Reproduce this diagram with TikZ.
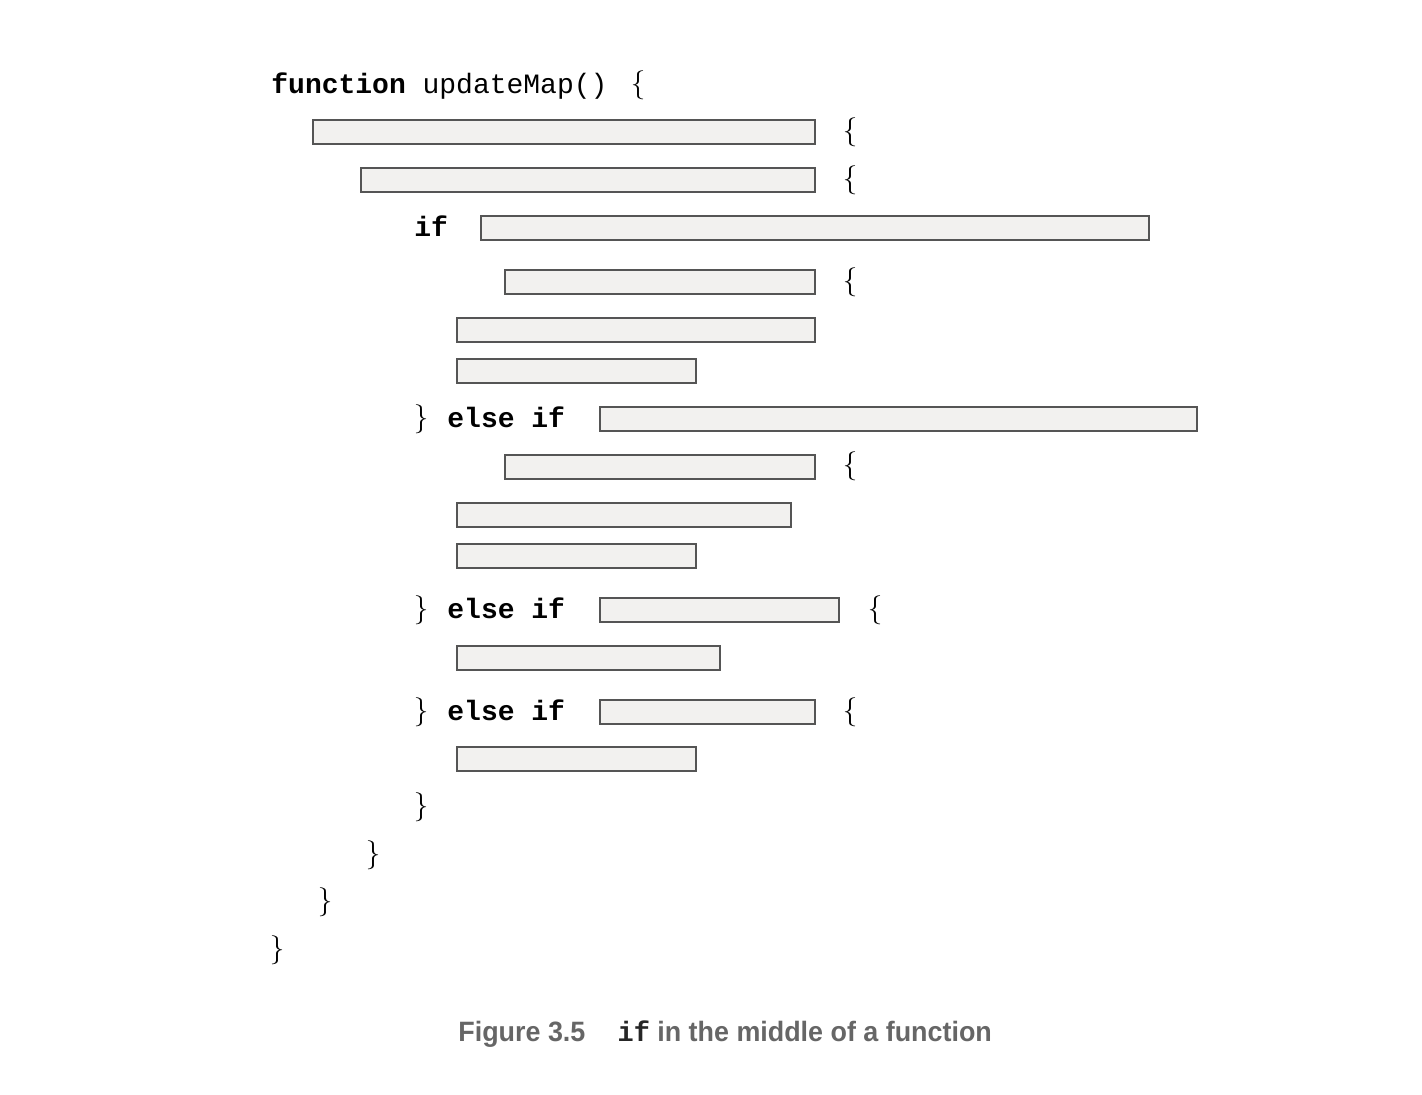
\documentclass[tikz,border=0pt]{standalone}
\usepackage{fontspec}
\usepackage{graphicx}
\usepackage{tikz}
\newfontfamily\codefont{Liberation Mono}
\newfontfamily\capfont{Liberation Sans}

\definecolor{boxfill}{HTML}{F2F1EF}
\definecolor{boxline}{HTML}{555555}
\definecolor{capgray}{HTML}{666666}

\tikzset{
    code/.style={anchor=base west, inner sep=0pt, font=\codefont\fontsize{14}{14}\selectfont},
    brace/.style={inner sep=0pt, font=\fontsize{14.5}{14.5}\selectfont},
    blank/.style={draw=boxline, fill=boxfill, line width=1pt},
}

\begin{document}
\begin{tikzpicture}[x=0.5pt, y=-0.5pt]
            \useasboundingbox (0,0) rectangle (1422,1094);
            % code lines
            \node[code] (fn) at (271,93) {\textbf{function} updateMap()};
            \node[brace] (o0) at (638,85) {\{};
            \node[code] (if1) at (414,236) {\textbf{if}};
            \node[brace] (c1) at (421,419) {\}};
            \node[code] (ei1) at (447,427) {\textbf{else if}};
            \node[brace] (c2) at (421,610) {\}};
            \node[code] (ei2) at (447,618) {\textbf{else if}};
            \node[brace] (c3) at (421,712) {\}};
            \node[code] (ei3) at (447,720) {\textbf{else if}};
            % opening braces
            \node[brace] (o1) at (850,132) {\{};
            \node[brace] (o2) at (850,180) {\{};
            \node[brace] (o3) at (850,282) {\{};
            \node[brace] (o4) at (850,466) {\{};
            \node[brace] (o5) at (875,610) {\{};
            \node[brace] (o6) at (850,712) {\{};
            % closing braces
            \node[brace] (e1) at (421,807) {\}};
            \node[brace] (e2) at (373,855) {\}};
            \node[brace] (e3) at (325,902) {\}};
            \node[brace] (e4) at (277,950) {\}};
            % blanked-out code
            \draw[blank] (313,120) rectangle (815,144);
            \draw[blank] (361,168) rectangle (815,192);
            \draw[blank] (481,216) rectangle (1149,240);
            \draw[blank] (505,270) rectangle (815,294);
            \draw[blank] (457,318) rectangle (815,342);
            \draw[blank] (457,359) rectangle (696,383);
            \draw[blank] (600,407) rectangle (1197,431);
            \draw[blank] (505,455) rectangle (815,479);
            \draw[blank] (457,503) rectangle (791,527);
            \draw[blank] (457,544) rectangle (696,568);
            \draw[blank] (600,598) rectangle (839,622);
            \draw[blank] (457,646) rectangle (720,670);
            \draw[blank] (600,700) rectangle (815,724);
            \draw[blank] (457,747) rectangle (696,771);
            % caption
            \node[anchor=base west, inner sep=0pt, text=capgray, font=\capfont\bfseries\fontsize{14}{14}\selectfont] (cap) at (458,1041)
                {\scalebox{0.96}[1]{Figure 3.5\hspace{1.2em}{\codefont\color{black!85}if} in the middle of a function}};
        \end{tikzpicture}
\end{document}
